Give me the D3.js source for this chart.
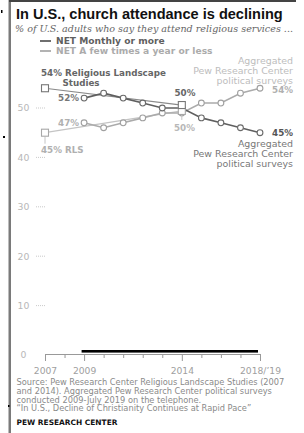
<!DOCTYPE html>
<html><head><meta charset="utf-8">
<script src="https://cdn.jsdelivr.net/npm/d3@7/dist/d3.min.js"></script>
<style>
html,body{margin:0;padding:0;background:#fff;}
svg{display:block;font-family:"DejaVu Sans",Verdana,sans-serif;}
</style></head>
<body>
<svg id="c" width="304" height="433"></svg>
<script>
// ---- data ----
const surveyYears = [2009, 2010, 2011, 2012, 2013, 2014, 2015, 2016, 2017, 2018];
const monthlySurveys = [52, 53, 52, 51, 50, 50, 48, 47, 46, 45];
const fewTimesSurveys = [47, 46, 47, 48, 49, 49, 51, 51, 53, 54];
const rlsYears = [2007, 2014];
const monthlyRLS = [54, 50.6];
const fewTimesRLS = [45, 49.4];
const yTicks = [0, 10, 20, 30, 40, 50];
const xTicks = [2007, 2008, 2009, 2010, 2011, 2012, 2013, 2014, 2015, 2016, 2017, 2018];
const xLabels = {2007: "2007", 2009: "2009", 2014: "2014", 2018: "2018/\u201919"};

const svg = d3.select("#c");
const x = d3.scaleLinear().domain([2007, 2018]).range([45, 260]);
const y = d3.scaleLinear().domain([0, 50]).range([355, 108]);

const DARK = "#5f5f5f", LIGHT = "#ababab";

// scale a text's font size so that it spans the given width
function fit(sel, w) {
  const base = +sel.attr("font-size");
  const len = sel.node().getComputedTextLength();
  sel.attr("font-size", (base * w / len).toFixed(2));
  return +sel.attr("font-size");
}

// frame
svg.append("rect").attr("x", 8.5).attr("y", 0).attr("width", 2.5).attr("height", 433).attr("fill", "#7a7a7a");
svg.append("rect").attr("x", 9).attr("y", 0).attr("width", 287).attr("height", 2).attr("fill", "#444");
// stray marks
svg.append("rect").attr("x", 1).attr("y", 10).attr("width", 1.5).attr("height", 3).attr("fill", "#000");
svg.append("rect").attr("x", 3).attr("y", 136).attr("width", 2).attr("height", 2).attr("fill", "#000");
svg.append("rect").attr("x", 8).attr("y", 405).attr("width", 1.5).attr("height", 2).attr("fill", "#000");

// title
const title = svg.append("text").attr("x", 16).attr("y", 19).attr("font-size", 14).attr("font-weight", "bold")
  .attr("font-family", "'Liberation Sans',Arial,sans-serif")
  .attr("fill", "#111").text("In U.S., church attendance is declining");
fit(title, 267);
const sub = svg.append("text").attr("x", 15).attr("y", 32).attr("font-size", 10).attr("font-style", "italic")
  .attr("font-family", "'DejaVu Serif',serif").attr("fill", "#666")
  .text("% of U.S. adults who say they attend religious services ...");
fit(sub, 278);

// legend
const legend = [{t: "NET Monthly or more", c: DARK, y: 41}, {t: "NET A few times a year or less", c: LIGHT, y: 51}];
legend.forEach((l, i) => {
  svg.append("line").attr("x1", 40).attr("x2", 51).attr("y1", l.y).attr("y2", l.y)
    .attr("stroke", l.c).attr("stroke-width", 1.8);
  const t = svg.append("text").attr("x", 56).attr("y", l.y + 3).attr("font-size", 8).attr("font-weight", "bold")
    .attr("fill", l.c).text(l.t);
  if (i === 1) fit(t, 157);
  l.node = t;
});
legend[0].node.attr("font-size", legend[1].node.attr("font-size"));

// y axis labels + dotted ticks
yTicks.forEach(v => {
  svg.append("text").attr("x", 23.5).attr("y", y(v) + 3.3).attr("text-anchor", "middle")
    .attr("font-size", 9.3).attr("fill", "#b8b8b8").text(v);
  if (v > 0) svg.append("line").attr("x1", 36).attr("x2", 46).attr("y1", y(v)).attr("y2", y(v))
    .attr("stroke", "#bbb").attr("stroke-width", 0.8).attr("stroke-dasharray", "1,1");
});

// x axis
const axis = d3.axisBottom(x).tickValues(xTicks).tickFormat(d => xLabels[d] || "")
  .tickSizeOuter(0).tickSize(4);
const gx = svg.append("g").attr("transform", "translate(0,354)").call(axis);
gx.select(".domain").attr("stroke", "#999");
gx.selectAll(".tick line").attr("stroke", "#999").attr("y2", d => xLabels[d] ? 7 : 4);
gx.selectAll(".tick text").attr("y", 13).attr("font-size", 9.2).attr("fill", "#a0a0a0")
  .attr("font-family", "'DejaVu Sans',Verdana,sans-serif");
// black highlight bar
svg.append("rect").attr("x", x(2009) - 2.5).attr("y", 350).attr("width", x(2018) - x(2009) + 0.5).attr("height", 2.6).attr("fill", "#000");

// lines
const line = d3.line().x(d => x(d[0])).y(d => y(d[1]));
const rlsM = rlsYears.map((yr, i) => [yr, monthlyRLS[i]]);
const rlsF = rlsYears.map((yr, i) => [yr, fewTimesRLS[i]]);
const sM = surveyYears.map((yr, i) => [yr, monthlySurveys[i]]);
const sF = surveyYears.map((yr, i) => [yr, fewTimesSurveys[i]]);

svg.append("path").attr("d", line(rlsF)).attr("fill", "none").attr("stroke", "#c4c4c4").attr("stroke-width", 1.2);
svg.append("path").attr("d", line(rlsM)).attr("fill", "none").attr("stroke", "#8a8a8a").attr("stroke-width", 1.2);
svg.append("path").attr("d", line(sF)).attr("fill", "none").attr("stroke", LIGHT).attr("stroke-width", 1.6);
svg.append("path").attr("d", line(sM)).attr("fill", "none").attr("stroke", DARK).attr("stroke-width", 1.6);

function circles(data, c) {
  svg.append("g").selectAll("circle").data(data).join("circle")
    .attr("cx", d => x(d[0])).attr("cy", d => y(d[1])).attr("r", 2.9)
    .attr("fill", "#fff").attr("stroke", c).attr("stroke-width", 1.1);
}
circles(sF, "#a0a0a0");
circles(sM, "#6a6a6a");

// leader lines under RLS few squares
svg.append("line").attr("x1", x(2007)).attr("x2", x(2007)).attr("y1", y(45) + 4).attr("y2", y(45) + 11)
  .attr("stroke", "#c4c4c4").attr("stroke-width", 1);
svg.append("line").attr("x1", x(2014)).attr("x2", x(2014)).attr("y1", y(49.4) + 4).attr("y2", y(49.4) + 9)
  .attr("stroke", "#c4c4c4").attr("stroke-width", 1);

function squares(data, c) {
  svg.append("g").selectAll("rect").data(data).join("rect")
    .attr("x", d => x(d[0]) - 3.5).attr("y", d => y(d[1]) - 3.5).attr("width", 7).attr("height", 7)
    .attr("fill", "#fff").attr("stroke", c).attr("stroke-width", 1.1);
}
squares(rlsF, "#a8a8a8");
squares(rlsM, "#777");

// annotations
function txt(xp, yp, s, opts) {
  const t = svg.append("text").attr("x", xp).attr("y", yp).attr("font-size", opts.size || 8)
    .attr("fill", opts.color).attr("text-anchor", opts.anchor || "start").text(s);
  if (opts.bold) t.attr("font-weight", "bold");
  return t;
}
const rl = txt(41, 76, "54% Religious Landscape", {color: "#666", bold: true});
const bsz = fit(rl, 125);
const b = (xp, yp, s, color, anchor) => txt(xp, yp, s, {color, bold: true, anchor, size: bsz});
b(81, 85.5, "Studies", "#666", "middle");
b(79, 101, "52%", "#777", "end");
b(79, 125.5, "47%", "#b0b0b0", "end");
b(41, 152.5, "45% RLS", "#b0b0b0", "start");
b(185, 96, "50%", "#666", "middle");
b(184.5, 130.5, "50%", "#b8b8b8", "middle");
b(293, 93, "54%", "#b0b0b0", "end");
b(293, 136, "45%", "#555", "end");

const pr = txt(293, 73.5, "Pew Research Center", {color: "#bdbdbd", anchor: "end"});
const nsz = fit(pr, 100);
const n = (yp, s, color) => txt(293, yp, s, {color, anchor: "end", size: nsz});
n(63.5, "Aggregated", "#bdbdbd");
n(83.5, "political surveys", "#bdbdbd");
n(146.5, "Aggregated", "#777");
n(156.5, "Pew Research Center", "#777");
n(166.5, "political surveys", "#777");

// source
const src = ["Source: Pew Research Center Religious Landscape Studies (2007",
  "and 2014). Aggregated Pew Research Center political surveys",
  "conducted 2009-July 2019 on the telephone.",
  "\u201cIn U.S., Decline of Christianity Continues at Rapid Pace\u201d"];
const s0 = txt(16.5, 385, src[0], {color: "#8a8a8a", size: 7});
const ssz = fit(s0, 268);
src.slice(1).forEach((s, i) => txt(16.5, 393.8 + i * 8.7, s, {color: "#8a8a8a", size: ssz}));
const pew = txt(16.5, 425, "PEW RESEARCH CENTER", {color: "#111", bold: true, size: 7});
fit(pew, 101);
</script>
</body></html>
